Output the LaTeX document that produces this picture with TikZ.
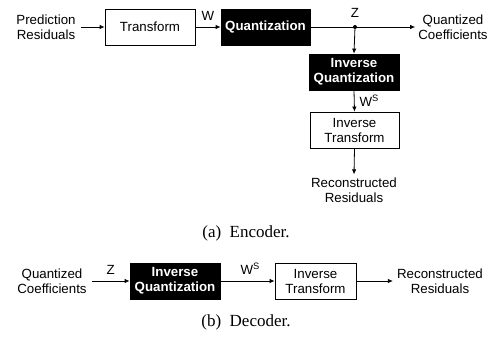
\documentclass[tikz,border=0pt]{standalone}
\usepackage{fontspec}
\setmainfont{Liberation Serif}
\setsansfont{Liberation Sans}
\usetikzlibrary{arrows.meta,calc}
\begin{document}
\begin{tikzpicture}[x=1pt,y=-1pt,
  lbl/.style={font=\sffamily\fontsize{13.3}{15}\selectfont, align=center, inner sep=0pt},
  wbox/.style={draw, line width=0.8pt, fill=white, minimum height=36pt, inner sep=0pt, font=\sffamily\fontsize{13.3}{15}\selectfont, align=center},
  bbox/.style={draw, fill=black, text=white, line width=0.8pt, minimum height=36pt, inner sep=0pt, font=\sffamily\bfseries\fontsize{13.3}{15}\selectfont, align=center},
  conn/.style={line width=0.8pt, -{Latex[length=5pt,width=4.5pt]}},
  plain/.style={line width=0.8pt},
  captxt/.style={font=\fontsize{17}{19}\selectfont, inner sep=0pt}]
\useasboundingbox (0,0) rectangle (492,337);
% Encoder
\node[lbl] (pr) at (46,27) {Prediction\\Residuals};
\node[wbox, minimum width=90pt] (tr) at (150,27) {Transform};
\node[bbox, minimum width=89pt] (q) at (265.5,27) {Quantization};
\coordinate (dot) at (355,27);
\node[lbl] (qc) at (453,27) {Quantized\\Coefficients};
\node[bbox, minimum width=90pt] (iq) at (354,72) {Inverse\\Quantization};
\node[wbox, minimum width=89pt] (it) at (354.5,130) {Inverse\\Transform};
\node[lbl] (rr) at (354,190) {Reconstructed\\Residuals};
\coordinate (a0) at ($(pr.east)+(5,0)$);
\draw[conn] (a0) -- (tr.west);
\draw[conn] (tr.east) -- node[lbl, above=6pt] (w) {W} (q.west);
\draw[plain] (q.east) -- (dot);
\coordinate (qcin) at ($(dot -| qc.west)+(-3,0)$);
\draw[conn] (dot) -- (qcin);
\fill (dot) circle (2pt);
\node[lbl] (z) at (355,13) {Z};
\draw[conn] (dot) -- (iq.north);
\draw[conn] (iq.south) -- node[lbl, right=5pt] (ws) {W\textsuperscript{S}} (it.north);
\draw[conn] (it.south) -- ($(rr.north)+(0,-3)$);
\node[captxt] (capa) at (246,233) {(a)\ \ Encoder.};
% Decoder
\node[lbl] (qc2) at (52,281) {Quantized\\Coefficients};
\node[bbox, minimum width=90pt] (iq2) at (175,281) {Inverse\\Quantization};
\node[wbox, minimum width=81pt] (it2) at (315.5,281) {Inverse\\Transform};
\node[lbl] (rr2) at (440,281) {Reconstructed\\Residuals};
\coordinate (c0) at ($(qc2.east)+(5,0)$);
\draw[conn] (c0) -- node[lbl, above=6pt] (z2) {Z} (iq2.west);
\draw[conn] (iq2.east) -- node[lbl, above=6pt, pos=0.55] (ws2) {W\textsuperscript{S}} (it2.west);
\draw[conn] (it2.east) -- ($(rr2.west)+(-4,0)$);
\node[captxt] (capb) at (246,322) {(b)\ \ Decoder.};
\end{tikzpicture}
\end{document}
